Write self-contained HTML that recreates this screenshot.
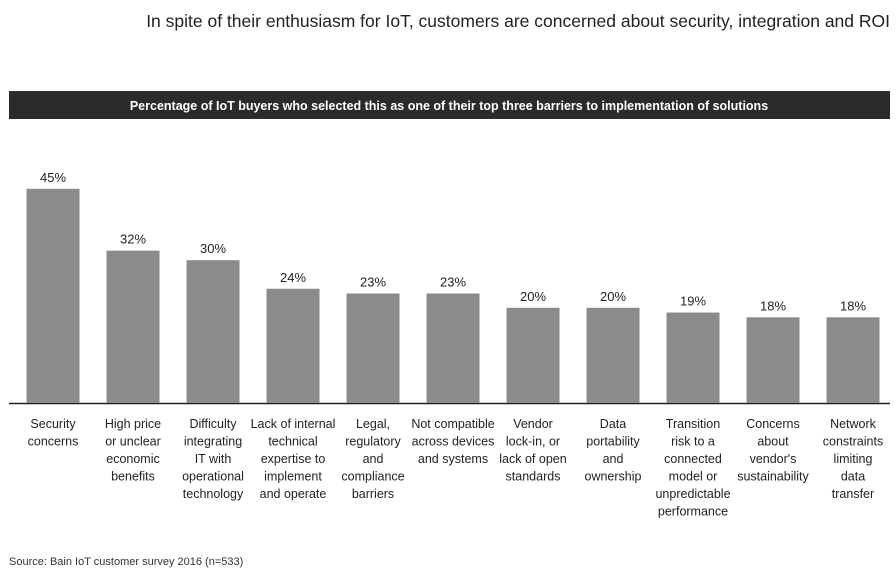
<!DOCTYPE html>
<html><head><meta charset="utf-8"><style>
body{margin:0;background:#fff;font-family:"Liberation Sans",sans-serif;}
#c{position:relative;width:896px;height:572px;overflow:hidden;}
</style></head><body>
<div id="c">
<svg id="s" width="896" height="572">
<text x="890" y="27" text-anchor="end" font-size="17.5" fill="#222">In spite of their enthusiasm for IoT, customers are concerned about security, integration and ROI</text>
<rect x="9" y="91" width="881" height="28" fill="#2b2b2b"/>
<text x="449" y="110" text-anchor="middle" font-size="12.5" font-weight="bold" fill="#fff">Percentage of IoT buyers who selected this as one of their top three barriers to implementation of solutions</text>
<line x1="9" y1="403.5" x2="890" y2="403.5" stroke="#222" stroke-width="1.5"/>
<text x="9" y="565" font-size="11" fill="#333">Source: Bain IoT customer survey 2016 (n=533)</text>
<g id="bars"></g>
</svg>
</div>
<script>
const categories=[["Security","concerns"],["High price","or unclear","economic","benefits"],["Difficulty","integrating","IT with","operational","technology"],["Lack of internal","technical","expertise to","implement","and operate"],["Legal,","regulatory","and","compliance","barriers"],["Not compatible","across devices","and systems"],["Vendor","lock-in, or","lack of open","standards"],["Data","portability","and","ownership"],["Transition","risk to a","connected","model or","unpredictable","performance"],["Concerns","about","vendor's","sustainability"],["Network","constraints","limiting","data","transfer"]];
const values=[45,32,30,24,23,23,20,20,19,18,18];
const valueLabels=["45%","32%","30%","24%","23%","23%","20%","20%","19%","18%","18%"];
const NS="http://www.w3.org/2000/svg";
const base=403,scaleY=4.76,x0=13,band=80,bw=53;
function xC(i){return x0+band*i+band/2;}
function yV(v){return base-v*scaleY;}
const g=document.getElementById('bars');
values.forEach((v,i)=>{
 const r=document.createElementNS(NS,'rect');
 r.setAttribute('x',xC(i)-bw/2);r.setAttribute('y',yV(v));
 r.setAttribute('width',bw);r.setAttribute('height',base-yV(v));
 r.setAttribute('fill','#8b8b8d');
 
 
 g.appendChild(r);
 const t=document.createElementNS(NS,'text');
 t.setAttribute('x',xC(i));t.setAttribute('y',yV(v)-7);
 t.setAttribute('text-anchor','middle');t.setAttribute('font-size','13');t.setAttribute('fill','#222');
 t.textContent=valueLabels[i];
 
 
 g.appendChild(t);
 categories[i].forEach((ln,j)=>{
  const c=document.createElementNS(NS,'text');
  c.setAttribute('x',xC(i));c.setAttribute('y',428+j*17.5);
  c.setAttribute('text-anchor','middle');c.setAttribute('font-size','12.5');c.setAttribute('fill','#222');
  c.textContent=ln;
  
  
  g.appendChild(c);
 });
});
</script>
</body></html>
